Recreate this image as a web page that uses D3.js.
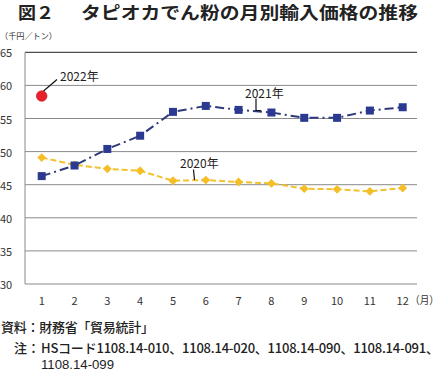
<!DOCTYPE html>
<html><head><meta charset="utf-8">
<script src="https://cdn.jsdelivr.net/npm/d3@7"></script>
<style>
html,body{margin:0;padding:0;background:#fff;}
svg{display:block;font-family:"Noto Sans CJK JP","Noto Sans",sans-serif;}
</style></head>
<body><svg id="c" width="440" height="371"></svg>
<script>
const months = [1,2,3,4,5,6,7,8,9,10,11,12];
const yTicks = [30,35,40,45,50,55,60,65];
const s2020 = [49.1,48.0,47.4,47.1,45.6,45.7,45.4,45.2,44.4,44.3,44.0,44.5];
const s2021 = [46.3,47.9,50.4,52.4,56.0,56.9,56.3,55.9,55.1,55.1,56.2,56.7];
const s2022 = [58.4];
const title1 = "図２";
const title2 = "タピオカでん粉の月別輸入価格の推移";
const unitLabel = "（千円／トン）";
const xUnit = "（月）";
const source = "資料：財務省「貿易統計」";
const noteHead = "注：";
const noteLine1 = "HSコード1108.14-010、1108.14-020、1108.14-090、1108.14-091、";
const noteLine2 = "1108.14-099";

const svg = d3.select("#c");
const x = d3.scalePoint().domain(months).range([41.7, 402.7]);
const y = d3.scaleLinear().domain([30,65]).range([284, 52.3]);
const L = 25, R = 417;

// title
svg.append("text").attr("x",18).attr("y",19).attr("font-size",16.5).attr("font-weight","bold").attr("fill","#222")
  .attr("textLength",36).attr("lengthAdjust","spacingAndGlyphs").text(title1);
svg.append("text").attr("x",81).attr("y",19).attr("font-size",16.5).attr("font-weight","bold").attr("fill","#222")
  .attr("textLength",337).attr("lengthAdjust","spacingAndGlyphs").text(title2);
svg.append("text").attr("x",0).attr("y",35).attr("font-size",8.5).attr("dominant-baseline","central").attr("fill","#333")
  .attr("textLength",57).attr("lengthAdjust","spacingAndGlyphs").text(unitLabel);

// gridlines
svg.append("g").selectAll("line").data(yTicks.filter(d=>d!==65)).join("line")
  .attr("x1",L).attr("x2",R).attr("y1",d=>y(d)).attr("y2",d=>y(d))
  .attr("stroke","#8a8a8a").attr("stroke-width",1);
svg.append("line").attr("x1",L).attr("x2",R).attr("y1",y(65)).attr("y2",y(65)).attr("stroke","#222").attr("stroke-width",1);
svg.append("line").attr("x1",L).attr("x2",L).attr("y1",y(65)).attr("y2",y(30)).attr("stroke","#8a8a8a").attr("stroke-width",1);

// y labels
svg.append("g").selectAll("text").data(yTicks).join("text")
  .attr("x",0).attr("y",d=>y(d)).attr("dominant-baseline","central").attr("font-size",11).attr("fill","#333").text(d=>d);
// x labels
svg.append("g").selectAll("text").data(months).join("text")
  .attr("x",d=>x(d)).attr("y",300).attr("text-anchor","middle").attr("dominant-baseline","central").attr("font-size",11).attr("fill","#333").text(d=>d);
svg.append("text").attr("x",410).attr("y",299).attr("dominant-baseline","central").attr("font-size",10.5).attr("fill","#333")
  .attr("textLength",29).attr("lengthAdjust","spacingAndGlyphs").text(xUnit);

const line = d3.line().x((d,i)=>x(months[i])).y(d=>y(d));

// 2020
svg.append("path").attr("d",line(s2020)).attr("fill","none").attr("stroke","#F3C02E").attr("stroke-width",2).attr("stroke-dasharray","6,3");
svg.append("g").selectAll("path").data(s2020).join("path")
  .attr("d",d3.symbol(d3.symbolDiamond2,50)())
  .attr("transform",(d,i)=>`translate(${x(months[i])},${y(d)})`)
  .attr("fill","#F5BE26");
// 2021
svg.append("path").attr("d",line(s2021)).attr("fill","none").attr("stroke","#2E3A7A").attr("stroke-width",2).attr("stroke-dasharray","9,4,2,4");
svg.append("g").selectAll("rect").data(s2021).join("rect")
  .attr("x",(d,i)=>x(months[i])-4).attr("y",d=>y(d)-4).attr("width",8).attr("height",8)
  .attr("fill","#2B3990");
// 2022
svg.append("g").selectAll("circle").data(s2022).join("circle")
  .attr("cx",(d,i)=>x(months[i])).attr("cy",d=>y(d)).attr("r",5.3)
  .attr("fill","#E8202A").attr("stroke","#C8101A").attr("stroke-width",0.6);

// annotations
const ann = svg.append("g").attr("font-size",12).attr("fill","#222");
svg.append("line").attr("x1",43.5).attr("y1",91).attr("x2",57).attr("y2",79.5).attr("stroke","#111").attr("stroke-width",1.2);
ann.append("text").attr("x",60).attr("y",75.5).attr("dominant-baseline","central").text("2022年");
svg.append("path").attr("d","M256,98.5 V110.5 H261").attr("fill","none").attr("stroke","#111").attr("stroke-width",1.2);
ann.append("text").attr("x",245).attr("y",92.5).attr("dominant-baseline","central").text("2021年");
svg.append("line").attr("x1",193.5).attr("y1",169.5).attr("x2",194.5).attr("y2",180).attr("stroke","#111").attr("stroke-width",1.2);
ann.append("text").attr("x",180).attr("y",162.5).attr("dominant-baseline","central").text("2020年");

// source & note
const ft = svg.append("g").attr("font-size",13).attr("fill","#222").attr("font-weight",500);
ft.append("text").attr("x",1).attr("y",326).attr("dominant-baseline","central").attr("textLength",153).attr("lengthAdjust","spacing").text(source);
ft.append("text").attr("x",14).attr("y",347).attr("dominant-baseline","central").text(noteHead);
ft.append("text").attr("x",41).attr("y",347).attr("dominant-baseline","central").attr("textLength",398).attr("lengthAdjust","spacing").text(noteLine1);
ft.append("text").attr("x",41).attr("y",364).attr("dominant-baseline","central")
  .attr("font-family","'Liberation Sans','Noto Sans CJK JP',sans-serif").attr("font-weight","normal")
  .attr("textLength",73).attr("lengthAdjust","spacingAndGlyphs").text(noteLine2);
</script></body></html>
